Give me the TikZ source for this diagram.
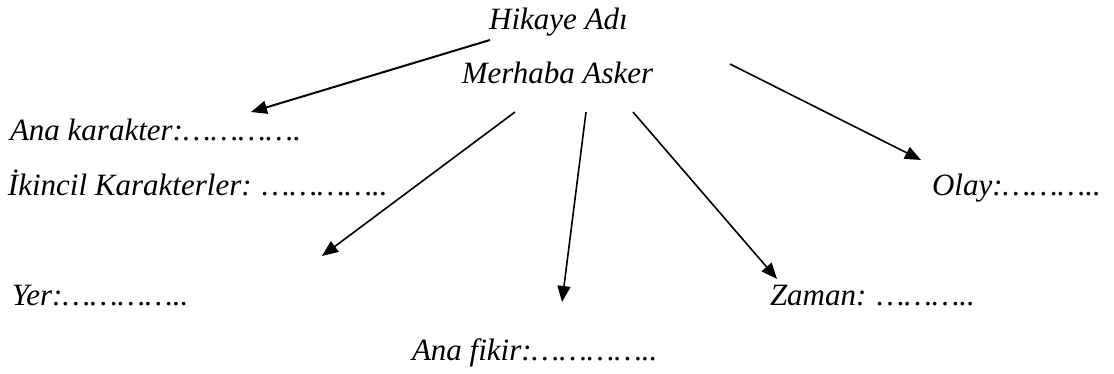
\documentclass[tikz,border=0pt]{standalone}
\usepackage{fontspec}
\setmainfont{Liberation Serif}
\usetikzlibrary{arrows.meta}
\tikzset{
  lbl/.style={inner sep=0pt, outer sep=0pt, font=\fontsize{31}{36}\selectfont\itshape},
  arr/.style={line width=1.6pt, -{Triangle[length=16pt,width=13pt]}},
}
\begin{document}
\begin{tikzpicture}[x=1pt,y=-1pt]
\useasboundingbox (0,0) rectangle (1114,373);
% texts
\node[lbl, anchor=base] (title) at (558.5,29) {Hikaye Adı};
\node[lbl, anchor=base] (merhaba) at (557.5,83) {Merhaba Asker};
\node[lbl, anchor=base west] (ana) at (10,140) {Ana karakter:………….};
\node[lbl, anchor=base west] (ikincil) at (8,195) {İkincil Karakterler: …………..};
\node[lbl, anchor=base west] (olay) at (932,195) {Olay:………..};
\node[lbl, anchor=base west] (yer) at (12,305) {Yer:…………..};
\node[lbl, anchor=base west] (zaman) at (770,305) {Zaman: ………..};
\node[lbl, anchor=base west] (fikir) at (412,360) {Ana fikir:…………..};
% connector ends
\coordinate (s1) at (490,40);   \coordinate (t1) at (251,112);
\coordinate (s2) at (730,64);   \coordinate (t2) at (921,160);
\coordinate (s3) at (515,112);  \coordinate (t3) at (322,256);
\coordinate (s4) at (586,112);  \coordinate (t4) at (562,302);
\coordinate (s5) at (633,112);  \coordinate (t5) at (777,279);
% arrows
\draw[arr, line width=2pt] (s1) -- (t1);
\draw[arr] (s2) -- (t2);
\draw[arr] (s3) -- (t3);
\draw[arr] (s4) -- (t4);
\draw[arr] (s5) -- (t5);
\end{tikzpicture}
\end{document}
